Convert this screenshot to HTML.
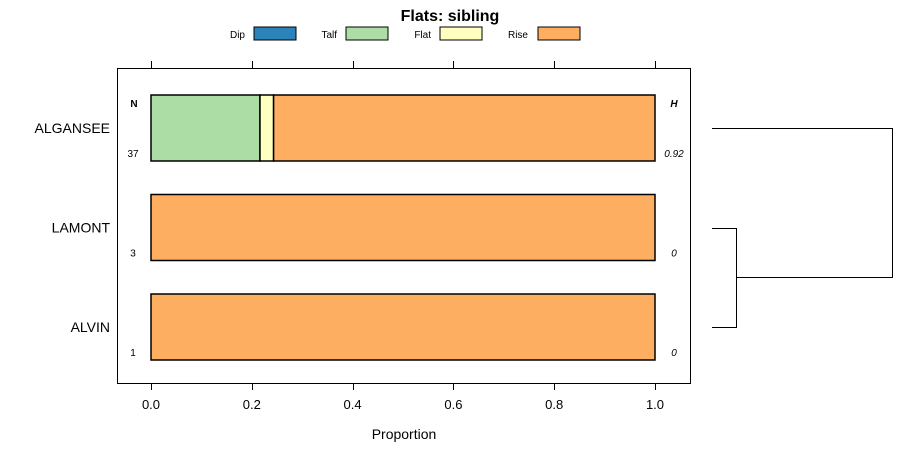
<!DOCTYPE html>
<html><head><meta charset="utf-8"><style>
body{margin:0;background:#fff;}
svg{display:block;font-family:"Liberation Sans",sans-serif;}
</style></head><body>
<svg id="chart" width="900" height="460"></svg>
<script>
const categories = ["ALGANSEE","LAMONT","ALVIN"];
const seriesNames = ["Dip","Talf","Flat","Rise"];
const seriesColors = ["#2b83ba","#abdda4","#ffffbf","#fdae61"];
const dipVals  = [0, 0, 0];
const talfVals = [8/37, 0, 0];
const flatVals = [1/37, 0, 0];
const riseVals = [28/37, 1, 1];
const nVals = ["37","3","1"];
const hVals = ["0.92","0","0"];
const xTicks = [0, 0.2, 0.4, 0.6, 0.8, 1.0];
const xTickLabels = ["0.0","0.2","0.4","0.6","0.8","1.0"];

const NS="http://www.w3.org/2000/svg";
const svg=document.getElementById('chart');
function mk(tag,attrs,parent){const e=document.createElementNS(NS,tag);for(const k in attrs)e.setAttribute(k,attrs[k]);(parent||svg).appendChild(e);return e;}
const xs=v=>151+v*504;
const rowCenter=i=>128+i*99.5;
const barH=66;

// title
let t=mk('text',{x:450,y:21,'text-anchor':'middle','font-size':16,'font-weight':'bold'});
t.textContent="Flats: sibling";



// legend
const legX=[[245,254],[337,346],[431,440],[528,538]];
seriesNames.forEach((s,i)=>{
  const g=mk('g',{});
  
  
  const lt=mk('text',{x:legX[i][0],y:38,'text-anchor':'end','font-size':10},g);lt.textContent=s;
  mk('rect',{x:legX[i][1],y:27,width:42,height:13,fill:seriesColors[i],stroke:'#000','stroke-width':1},g);
});

// panel
const panel=mk('rect',{x:117.5,y:68.5,width:573,height:315,fill:'none',stroke:'#000','stroke-width':1});



// ticks
xTicks.forEach((v,i)=>{
  const x=Math.round(xs(v))+0.5;
  mk('line',{x1:x,x2:x,y1:61,y2:68,stroke:'#000'});
  mk('line',{x1:x,x2:x,y1:383,y2:390,stroke:'#000'});
  const tl=mk('text',{x:xs(v),y:409,'text-anchor':'middle','font-size':13});
  tl.textContent=xTickLabels[i];
  
  
});
let xl=mk('text',{x:404,y:439,'text-anchor':'middle','font-size':14});
xl.textContent="Proportion";



// N/H headers
let nh=mk('text',{x:134,y:107,'text-anchor':'middle','font-size':10,'font-weight':'bold'});nh.textContent="N";

let hh=mk('text',{x:674,y:107,'text-anchor':'middle','font-size':10,'font-weight':'bold','font-style':'italic'});hh.textContent="H";


// bars
const allVals=[dipVals,talfVals,flatVals,riseVals];
categories.forEach((c,i)=>{
  const cy=rowCenter(i), y0=cy-barH/2;
  let cum=0;
  allVals.forEach((arr,s)=>{
    const v=arr[i];
    if(v>0){
      const r=mk('rect',{x:xs(cum),y:y0,width:xs(cum+v)-xs(cum),height:barH,fill:seriesColors[s],stroke:'#000','stroke-width':1.5});
      
      
    }
    cum+=v;
  });
  const lab=mk('text',{x:110,y:cy+5,'text-anchor':'end','font-size':14});
  lab.textContent=c;
  
  
  const n=mk('text',{x:133,y:cy+29,'text-anchor':'middle','font-size':10});
  n.textContent=nVals[i];
  
  
  const h=mk('text',{x:674,y:cy+29,'text-anchor':'middle','font-size':10,'font-style':'italic'});
  h.textContent=hVals[i];
  
  
});

// dendrogram
const d=mk('path',{d:"M712 128.5H892.5V277.5H736.5 M712 228.5H736.5V327.5H712",fill:'none',stroke:'#000','stroke-width':1});


</script>
</body></html>
